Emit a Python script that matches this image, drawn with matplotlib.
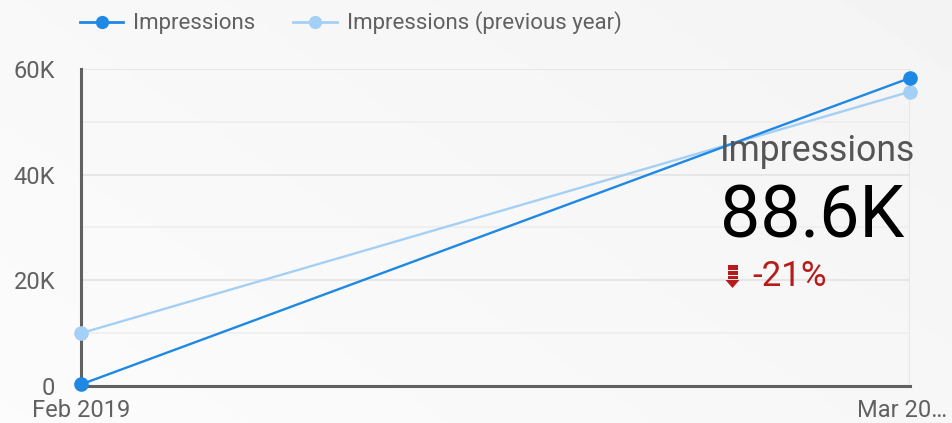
import matplotlib
matplotlib.use("Agg")
import matplotlib.pyplot as plt
import matplotlib.transforms as mtrans
import numpy as np
from matplotlib.patches import Rectangle, Polygon
from matplotlib.lines import Line2D

plt.rcParams['font.family'] = ['Roboto', 'DejaVu Sans']

# ---- data ----
categories = ["Feb 2019", "Mar 20…"]
impressions = [300, 58300]
impressions_prev = [10000, 55700]
series_labels = ["Impressions", "Impressions (previous year)"]
y_ticks = [0, 20000, 40000, 60000]
y_ticklabels = ["0", "20K", "40K", "60K"]
score_title = "Impressions"
score_value = "88.6K"
score_delta = "-21%"

c_cur = "#1e88e5"
c_prev = "#a5d0f5"
c_axis = "#616161"
c_text = "#616161"
c_red = "#b71c1c"

W, H = 952, 423
fig = plt.figure(figsize=(W / 100, H / 100), dpi=100)
fig.patch.set_facecolor("#f7f7f7")

# subtle background gradient
bg = fig.add_axes([0, 0, 1, 1], zorder=-10)
gx, gy = np.meshgrid(np.linspace(0, 1, 200), np.linspace(0, 1, 100))
grad = 0.985 - 0.03 * (0.6 * gx + 0.4 * (1 - gy))
bg.imshow(grad, cmap="gray", vmin=0, vmax=1, aspect="auto", extent=[0, 1, 0, 1])
bg.set_axis_off()

ax = fig.add_axes([81 / W, 1 - 386 / H, (910 - 81) / W, (386 - 69) / H])
ax.set_facecolor("none")

x = np.arange(len(categories))
ax.plot(x, impressions_prev, color=c_prev, lw=1.7, marker="o", ms=9.5,
        clip_on=False, zorder=3)
ax.plot(x, impressions, color=c_cur, lw=1.7, marker="o", ms=9.5,
        clip_on=False, zorder=4)

ax.set_xlim(0, 1)
ax.set_ylim(0, 60000)
ax.set_yticks(y_ticks)
ax.set_yticklabels(y_ticklabels)
ax.set_yticks([10000, 30000, 50000], minor=True)
ax.grid(axis="y", which="major", color="#e3e3e3", lw=1.2)
ax.grid(axis="y", which="minor", color="#eeeeee", lw=1.2)
ax.axvline(1, color="#e6e6e6", lw=1.5, zorder=1)
ax.tick_params(axis="y", which="both", length=0, pad=18.5, labelsize=17,
               labelcolor=c_text)
ax.tick_params(axis="x", length=0, labelsize=17, labelcolor=c_text, pad=9)
ax.set_xticks(x)
ax.set_xticklabels(categories)
lbls = ax.get_xticklabels()
lbls[0].set_ha("center")
lbls[1].set_ha("right")
lbls[1].set_transform(lbls[1].get_transform() +
                      mtrans.ScaledTranslation(37 / 100, 0, fig.dpi_scale_trans))

for s in ["top", "right"]:
    ax.spines[s].set_visible(False)
for s in ["left", "bottom"]:
    ax.spines[s].set_color(c_axis)
    ax.spines[s].set_linewidth(2.2)
    ax.spines[s].set_zorder(2)

# legend
handles = [Line2D([0], [0], color=c_cur, lw=2.0, marker="o", ms=8.5),
           Line2D([0], [0], color=c_prev, lw=2.0, marker="o", ms=8.5)]
fig.legend(handles, series_labels, loc="center left",
           bbox_to_anchor=(80 / W, 1 - 23 / H), ncol=2, frameon=False,
           fontsize=16, labelcolor=c_text, handlelength=1.95,
           handletextpad=0.45, columnspacing=1.7, borderaxespad=0, borderpad=0)

# scorecard
fig.text(720 / W, 1 - 151 / H, score_title, fontsize=25.7, color="#555555",
         ha="left", va="center")
fig.text(720 / W, 1 - 218 / H, score_value, fontsize=51.5, color="#000000",
         ha="left", va="center")
fig.text(752 / W, 1 - 276 / H, score_delta, fontsize=25.2, color=c_red,
         ha="left", va="center")

# down-arrow icon (stacked bars + arrow head)
def fx(px):
    return px / W

def fy(py):
    return 1 - py / H

for top, bot in ((265.5, 269.8), (271.3, 274.6), (276.0, 279.2)):
    fig.patches.append(Rectangle((fx(728), fy(bot)), fx(9.5), (bot - top) / H,
                                 transform=fig.transFigure, color=c_red, lw=0))
fig.patches.append(Polygon([(fx(725.5), fy(280)), (fx(739.5), fy(280)),
                            (fx(732.5), fy(288))], closed=True,
                           transform=fig.transFigure, color=c_red, lw=0))

fig.savefig("out.png", dpi=100, facecolor=fig.get_facecolor())
